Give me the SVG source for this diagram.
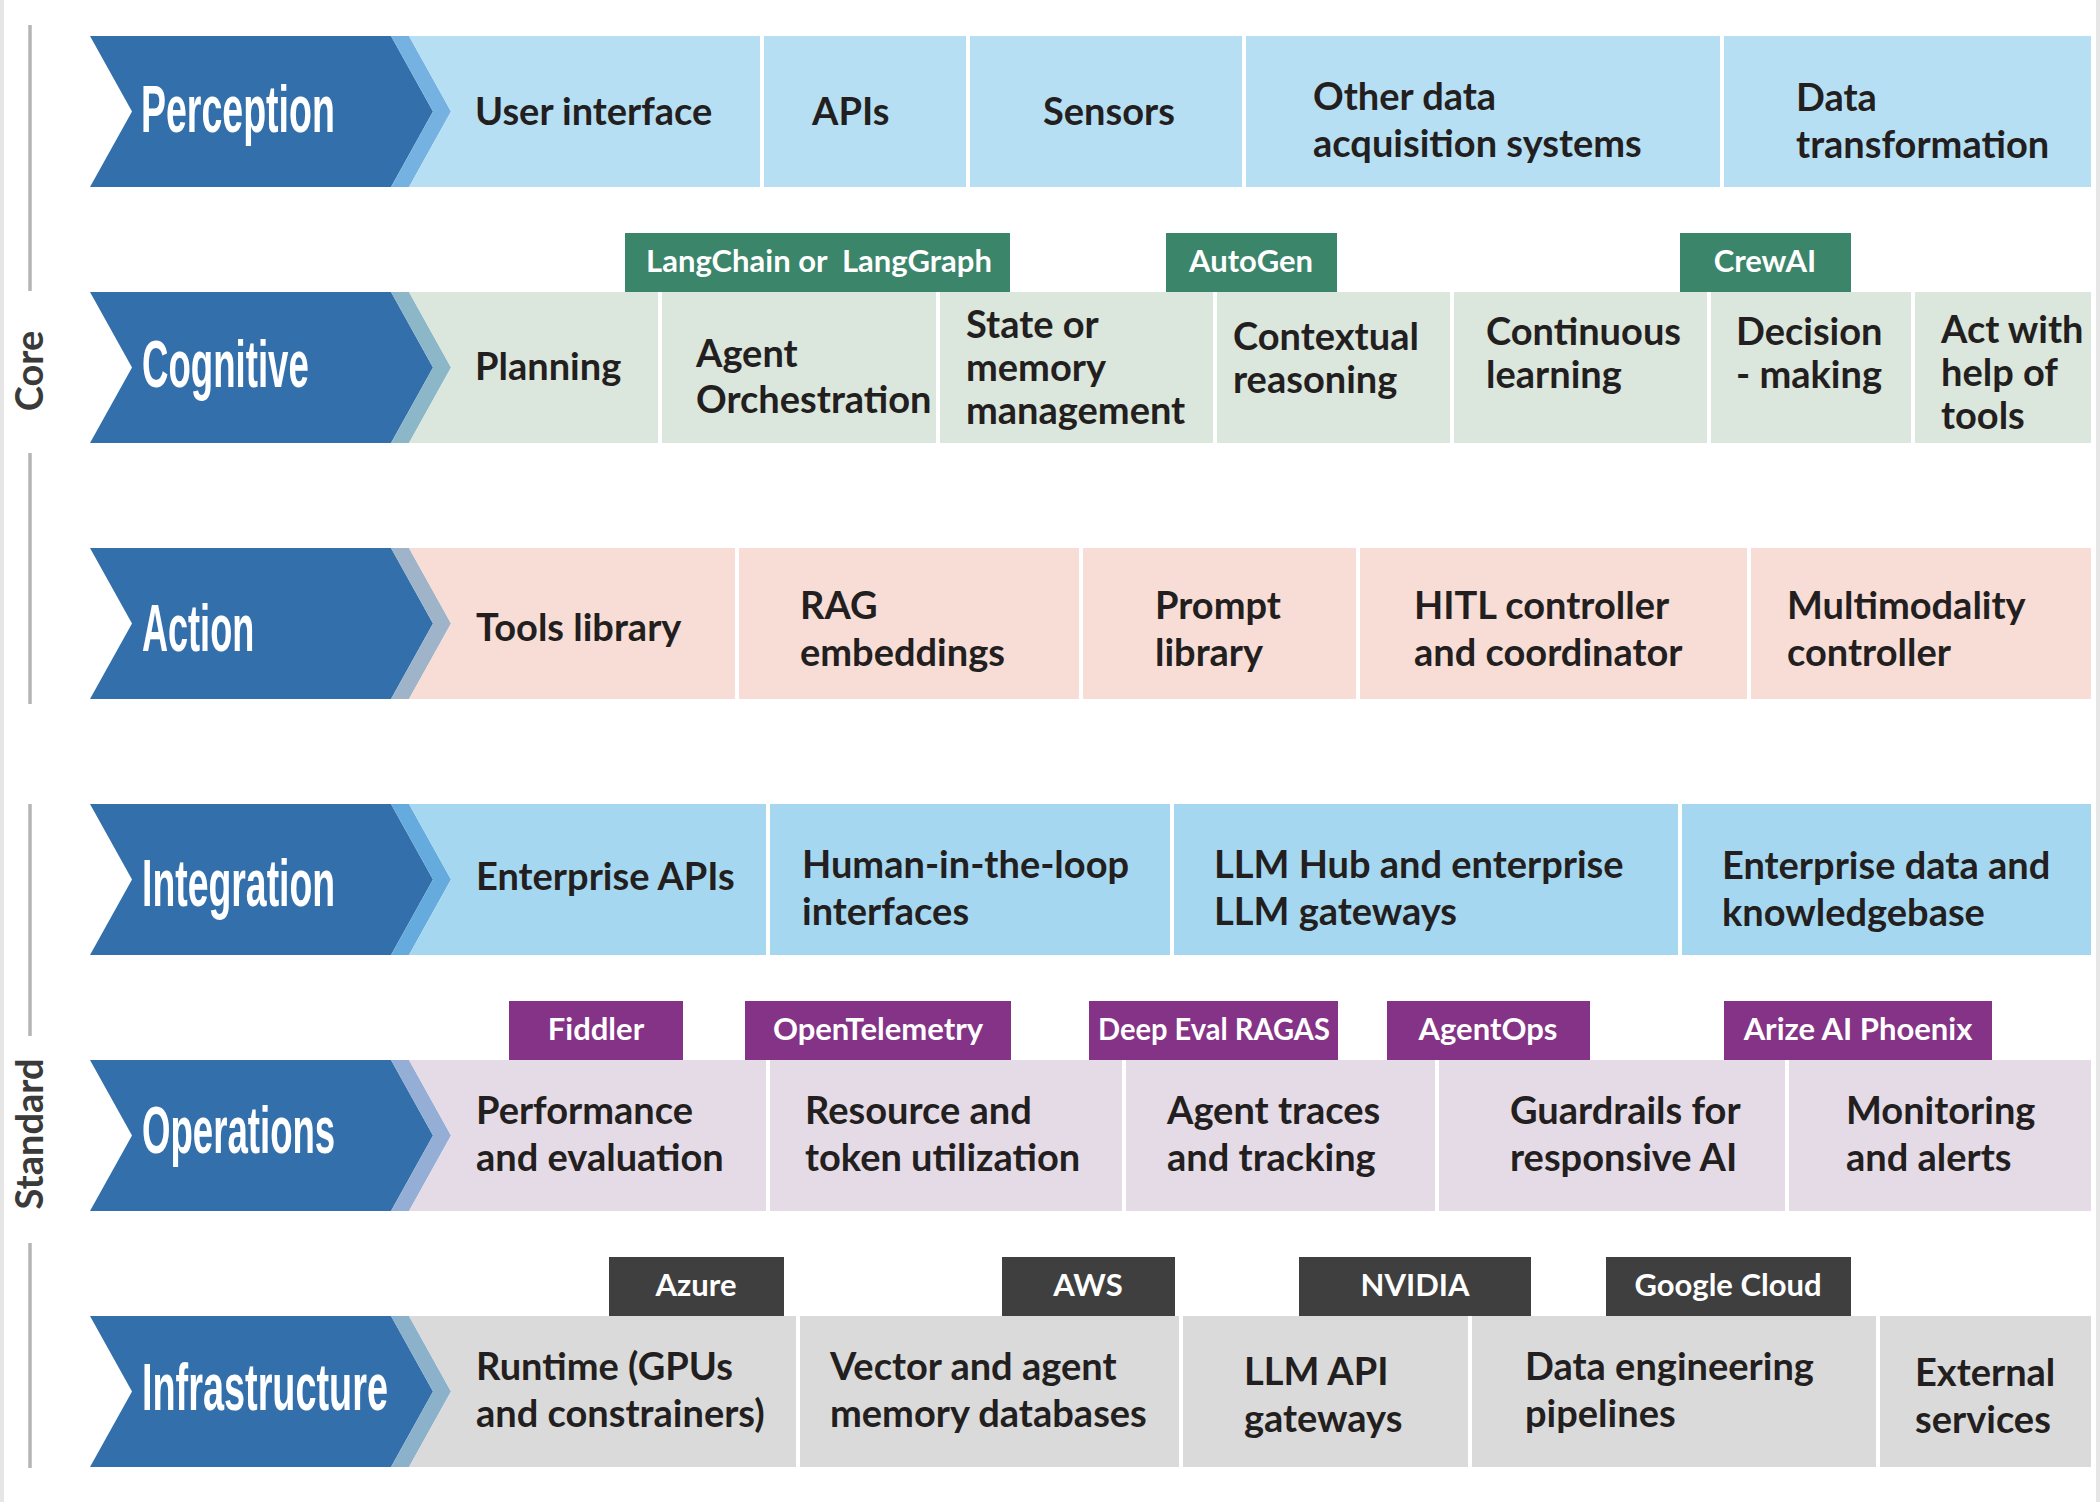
<svg xmlns="http://www.w3.org/2000/svg" width="2100" height="1502" viewBox="0 0 2100 1502">
<style>
.bg{fill:#ffffff}
.edge{fill:#e6e6e6}
.vline{stroke:#b5b5b5;stroke-width:3.5;fill:none}
.side{font-family:Lato,"Liberation Sans",sans-serif;font-weight:700;font-size:38px;fill:#3a3a3a;text-anchor:middle}
.dark{fill:#336fab}
.div{stroke:#ffffff;stroke-width:4}
.head{font-family:"Liberation Sans",Arial,sans-serif;font-weight:700;font-size:66px;fill:#ffffff}
.cell{font-family:Lato,"Liberation Sans",sans-serif;font-weight:700;font-size:38px;fill:#231f20}
.tagt{font-family:Lato,"Liberation Sans",sans-serif;font-weight:700;font-size:31px;fill:#ffffff;text-anchor:middle}
.tg{fill:#3b856b}
.tp{fill:#843386}
.td{fill:#3f3f3f}
</style>
<rect class="bg" x="0" y="0" width="2100" height="1502"/>
<rect class="edge" x="0" y="0" width="4" height="1502"/>
<rect class="edge" x="2096" y="0" width="4" height="1502"/>

<g id="side-labels">
<line class="vline" x1="30" y1="25" x2="30" y2="291"/>
<line class="vline" x1="30" y1="453" x2="30" y2="704"/>
<line class="vline" x1="30" y1="804" x2="30" y2="1036"/>
<line class="vline" x1="30" y1="1243" x2="30" y2="1468"/>
<text class="side" transform="translate(43,371) rotate(-90)">Core</text>
<text class="side" transform="translate(43,1134) rotate(-90)">Standard</text>
</g>

<g id="connectors"></g>

<g id="perception">
<polygon class="dark" points="90,36 391,36 433,111.5 391,187 90,187 132,111.5"/>
<polygon fill="#75b2e1" points="391,36 409,36 451,111.5 409,187 391,187 433,111.5"/>
<polygon fill="#b7dff4" points="409,36 2091,36 2091,187 409,187 451,111.5"/>
<line class="div" x1="762" y1="36" x2="762" y2="187"/>
<line class="div" x1="968" y1="36" x2="968" y2="187"/>
<line class="div" x1="1244" y1="36" x2="1244" y2="187"/>
<line class="div" x1="1722" y1="36" x2="1722" y2="187"/>
<text class="head" transform="translate(141,132) scale(0.6,1)" textLength="323" lengthAdjust="spacingAndGlyphs">Perception</text>
<text class="cell" x="475" y="125">User interface</text>
<text class="cell" x="812" y="125">APIs</text>
<text class="cell" x="1043" y="125">Sensors</text>
<text class="cell"><tspan x="1313" y="110">Other data</tspan><tspan x="1313" y="157">acquisition systems</tspan></text>
<text class="cell"><tspan x="1796" y="111">Data</tspan><tspan x="1796" y="158">transformation</tspan></text>
</g>

<g id="cognitive">
<polygon class="dark" points="90,292 391,292 433,367.5 391,443 90,443 132,367.5"/>
<polygon fill="#8cb7c9" points="391,292 409,292 451,367.5 409,443 391,443 433,367.5"/>
<polygon fill="#dbe6dc" points="409,292 2091,292 2091,443 409,443 451,367.5"/>
<line class="div" x1="660" y1="292" x2="660" y2="443"/>
<line class="div" x1="938" y1="292" x2="938" y2="443"/>
<line class="div" x1="1215" y1="292" x2="1215" y2="443"/>
<line class="div" x1="1452" y1="292" x2="1452" y2="443"/>
<line class="div" x1="1709" y1="292" x2="1709" y2="443"/>
<line class="div" x1="1913" y1="292" x2="1913" y2="443"/>
<text class="head" transform="translate(142,387) scale(0.6,1)" textLength="278" lengthAdjust="spacingAndGlyphs">Cognitive</text>
<text class="cell" x="475" y="380">Planning</text>
<text class="cell"><tspan x="696" y="367">Agent</tspan><tspan x="696" y="413">Orchestration</tspan></text>
<text class="cell"><tspan x="966" y="338">State or</tspan><tspan x="966" y="381">memory</tspan><tspan x="966" y="424">management</tspan></text>
<text class="cell"><tspan x="1233" y="350">Contextual</tspan><tspan x="1233" y="393">reasoning</tspan></text>
<text class="cell"><tspan x="1486" y="345">Continuous</tspan><tspan x="1486" y="388">learning</tspan></text>
<text class="cell"><tspan x="1736" y="345">Decision</tspan><tspan x="1736" y="388">- making</tspan></text>
<text class="cell"><tspan x="1941" y="343">Act with</tspan><tspan x="1941" y="386">help of</tspan><tspan x="1941" y="429">tools</tspan></text>
</g>

<g id="action">
<polygon class="dark" points="90,548 391,548 433,623.5 391,699 90,699 132,623.5"/>
<polygon fill="#9fb3c9" points="391,548 409,548 451,623.5 409,699 391,699 433,623.5"/>
<polygon fill="#f7ddd6" points="409,548 2091,548 2091,699 409,699 451,623.5"/>
<line class="div" x1="737" y1="548" x2="737" y2="699"/>
<line class="div" x1="1081" y1="548" x2="1081" y2="699"/>
<line class="div" x1="1358" y1="548" x2="1358" y2="699"/>
<line class="div" x1="1749" y1="548" x2="1749" y2="699"/>
<text class="head" transform="translate(142,651) scale(0.6,1)" textLength="187" lengthAdjust="spacingAndGlyphs">Action</text>
<text class="cell" x="476" y="641">Tools library</text>
<text class="cell"><tspan x="800" y="619">RAG</tspan><tspan x="800" y="666">embeddings</tspan></text>
<text class="cell"><tspan x="1155" y="619">Prompt</tspan><tspan x="1155" y="666">library</tspan></text>
<text class="cell"><tspan x="1414" y="619">HITL controller</tspan><tspan x="1414" y="666">and coordinator</tspan></text>
<text class="cell"><tspan x="1787" y="619">Multimodality</tspan><tspan x="1787" y="666">controller</tspan></text>
</g>

<g id="integration">
<polygon class="dark" points="90,804 391,804 433,879.5 391,955 90,955 132,879.5"/>
<polygon fill="#66abdd" points="391,804 409,804 451,879.5 409,955 391,955 433,879.5"/>
<polygon fill="#a5d8f0" points="409,804 2091,804 2091,955 409,955 451,879.5"/>
<line class="div" x1="768" y1="804" x2="768" y2="955"/>
<line class="div" x1="1172" y1="804" x2="1172" y2="955"/>
<line class="div" x1="1680" y1="804" x2="1680" y2="955"/>
<text class="head" transform="translate(142,906) scale(0.6,1)" textLength="322" lengthAdjust="spacingAndGlyphs">Integration</text>
<text class="cell" x="476" y="890">Enterprise APIs</text>
<text class="cell"><tspan x="802" y="878">Human-in-the-loop</tspan><tspan x="802" y="925">interfaces</tspan></text>
<text class="cell"><tspan x="1214" y="878">LLM Hub and enterprise</tspan><tspan x="1214" y="925">LLM gateways</tspan></text>
<text class="cell"><tspan x="1722" y="879">Enterprise data and</tspan><tspan x="1722" y="926">knowledgebase</tspan></text>
</g>

<g id="operations">
<polygon class="dark" points="90,1060 391,1060 433,1135.5 391,1211 90,1211 132,1135.5"/>
<polygon fill="#94aed5" points="391,1060 409,1060 451,1135.5 409,1211 391,1211 433,1135.5"/>
<polygon fill="#e5dbe6" points="409,1060 2091,1060 2091,1211 409,1211 451,1135.5"/>
<line class="div" x1="768" y1="1060" x2="768" y2="1211"/>
<line class="div" x1="1124" y1="1060" x2="1124" y2="1211"/>
<line class="div" x1="1437" y1="1060" x2="1437" y2="1211"/>
<line class="div" x1="1787" y1="1060" x2="1787" y2="1211"/>
<text class="head" transform="translate(142,1153) scale(0.6,1)" textLength="322" lengthAdjust="spacingAndGlyphs">Operations</text>
<text class="cell"><tspan x="476" y="1124">Performance</tspan><tspan x="476" y="1171">and evaluation</tspan></text>
<text class="cell"><tspan x="805" y="1124">Resource and</tspan><tspan x="805" y="1171">token utilization</tspan></text>
<text class="cell"><tspan x="1167" y="1124">Agent traces</tspan><tspan x="1167" y="1171">and tracking</tspan></text>
<text class="cell"><tspan x="1510" y="1124">Guardrails for</tspan><tspan x="1510" y="1171">responsive AI</tspan></text>
<text class="cell"><tspan x="1846" y="1124">Monitoring</tspan><tspan x="1846" y="1171">and alerts</tspan></text>
</g>

<g id="infrastructure">
<polygon class="dark" points="90,1316 391,1316 433,1391.5 391,1467 90,1467 132,1391.5"/>
<polygon fill="#8cb1ca" points="391,1316 409,1316 451,1391.5 409,1467 391,1467 433,1391.5"/>
<polygon fill="#dadada" points="409,1316 2091,1316 2091,1467 409,1467 451,1391.5"/>
<line class="div" x1="798" y1="1316" x2="798" y2="1467"/>
<line class="div" x1="1181" y1="1316" x2="1181" y2="1467"/>
<line class="div" x1="1470" y1="1316" x2="1470" y2="1467"/>
<line class="div" x1="1878" y1="1316" x2="1878" y2="1467"/>
<text class="head" transform="translate(142,1410) scale(0.6,1)" textLength="410" lengthAdjust="spacingAndGlyphs">Infrastructure</text>
<text class="cell"><tspan x="476" y="1380">Runtime (GPUs</tspan><tspan x="476" y="1427">and constrainers)</tspan></text>
<text class="cell"><tspan x="830" y="1380">Vector and agent</tspan><tspan x="830" y="1427">memory databases</tspan></text>
<text class="cell"><tspan x="1244" y="1385">LLM API</tspan><tspan x="1244" y="1432">gateways</tspan></text>
<text class="cell"><tspan x="1525" y="1380">Data engineering</tspan><tspan x="1525" y="1427">pipelines</tspan></text>
<text class="cell"><tspan x="1915" y="1386">External</tspan><tspan x="1915" y="1433">services</tspan></text>
</g>

<g id="tag-langchain"><rect class="tg" x="625" y="233" width="385" height="59"/><text class="tagt" x="819" y="272" xml:space="preserve">LangChain or  LangGraph</text></g>
<g id="tag-autogen"><rect class="tg" x="1166" y="233" width="171" height="59"/><text class="tagt" x="1251" y="272">AutoGen</text></g>
<g id="tag-crewai"><rect class="tg" x="1680" y="233" width="171" height="59"/><text class="tagt" x="1765" y="272">CrewAI</text></g>

<g id="tag-fiddler"><rect class="tp" x="509" y="1001" width="174" height="59"/><text class="tagt" x="596" y="1040">Fiddler</text></g>
<g id="tag-opentelemetry"><rect class="tp" x="745" y="1001" width="266" height="59"/><text class="tagt" x="878" y="1040">OpenTelemetry</text></g>
<g id="tag-deepeval"><rect class="tp" x="1089" y="1001" width="249" height="59"/><text class="tagt" x="1214" y="1040" textLength="232" lengthAdjust="spacingAndGlyphs">Deep Eval RAGAS</text></g>
<g id="tag-agentops"><rect class="tp" x="1387" y="1001" width="203" height="59"/><text class="tagt" x="1488" y="1040">AgentOps</text></g>
<g id="tag-arize"><rect class="tp" x="1724" y="1001" width="268" height="59"/><text class="tagt" x="1858" y="1040">Arize AI Phoenix</text></g>

<g id="tag-azure"><rect class="td" x="609" y="1257" width="175" height="59"/><text class="tagt" x="696" y="1296">Azure</text></g>
<g id="tag-aws"><rect class="td" x="1002" y="1257" width="173" height="59"/><text class="tagt" x="1088" y="1296">AWS</text></g>
<g id="tag-nvidia"><rect class="td" x="1299" y="1257" width="232" height="59"/><text class="tagt" x="1415" y="1296">NVIDIA</text></g>
<g id="tag-googlecloud"><rect class="td" x="1606" y="1257" width="245" height="59"/><text class="tagt" x="1728" y="1296">Google Cloud</text></g>
</svg>
